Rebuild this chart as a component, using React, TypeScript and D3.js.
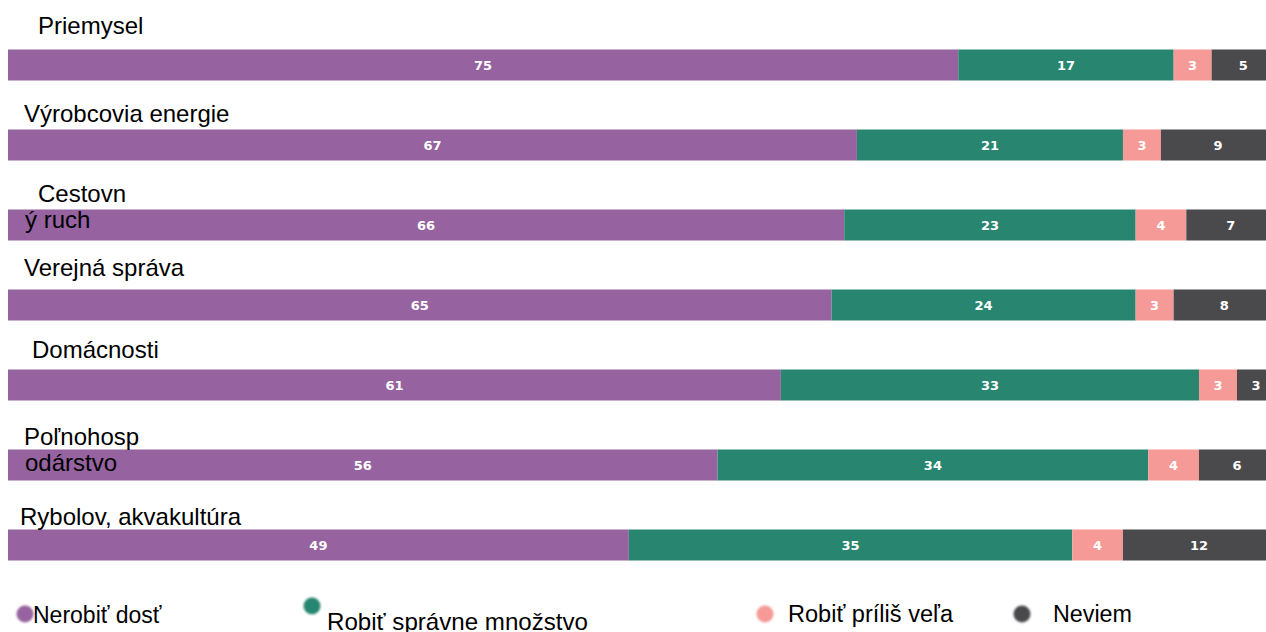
import React from "react";
import * as d3 from "d3";

const categories = [
  "Priemysel",
  "Výrobcovia energie",
  "Cestovný ruch",
  "Verejná správa",
  "Domácnosti",
  "Poľnohospodárstvo",
  "Rybolov, akvakultúra",
];
// displayed label lines (as wrapped in the original)
const labelLines = [
  ["Priemysel"],
  ["Výrobcovia energie"],
  ["Cestovn", "ý ruch"],
  ["Verejná správa"],
  ["Domácnosti"],
  ["Poľnohosp", "odárstvo"],
  ["Rybolov, akvakultúra"],
];
const seriesNames = ["Nerobiť dosť", "Robiť správne množstvo", "Robiť príliš veľa", "Neviem"];
const notEnough = [75, 67, 66, 65, 61, 56, 49];
const rightAmount = [17, 21, 23, 24, 33, 34, 35];
const tooMuch = [3, 3, 4, 3, 3, 4, 4];
const dontKnow = [5, 9, 7, 8, 3, 6, 12];

const colors = ["#9663a0", "#288670", "#f59a96", "#4a494b"];

// label layout offsets (style, relative to each bar)
const labelDx = [38, 24, 38, 24, 32, 24, 20];
const labelDy = [-15.5, -8, -8, -14, -12, -5, -5];
const lineGap = 26;

export default function App() {
  const width = 1266;
  const height = 632;
  const x = d3.scaleLinear().domain([0, 100]).range([8, 1275]);
  const y = d3
    .scaleBand<string>()
    .domain(categories)
    .range([49.5, 560.5])
    .paddingInner(0.6125)
    .paddingOuter(0);

  const series = [notEnough, rightAmount, tooMuch, dontKnow];
  const rows = categories.map((c, i) => {
    const obj: any = { cat: c };
    series.forEach((s, k) => (obj["s" + k] = s[i]));
    return obj;
  });
  const stacked = d3.stack<any>().keys(["s0", "s1", "s2", "s3"])(rows);

  const legend = [
    { cx: 25, cy: 614, tx: 33, ty: 623, size: 23, len: 0 },
    { cx: 312, cy: 606, tx: 327, ty: 630, size: 24, len: 261 },
    { cx: 765, cy: 614, tx: 788, ty: 622, size: 23, len: 165 },
    { cx: 1022, cy: 614, tx: 1053, ty: 622, size: 23, len: 79 },
  ];

  return (
    <svg
      width={width}
      height={height}
      style={{ position: "absolute", left: 0, top: 0, background: "#fff" }}
      fontFamily="'Liberation Sans', Arial, sans-serif"
    >
      <defs>
        <filter id="blur" x="-50%" y="-50%" width="200%" height="200%">
          <feGaussianBlur stdDeviation="1.2" />
        </filter>
      </defs>
      {stacked.map((layer, k) => (
        <g key={k}>
          {layer.map((d, i) => {
            const x0 = x(d[0]);
            const x1 = x(d[1]);
            const yy = y(categories[i])!;
            return (
              <g key={i}>
                <rect x={x0} y={yy} width={x1 - x0} height={y.bandwidth()} fill={colors[k]} />
                <text
                  x={(x0 + x1) / 2}
                  y={yy + y.bandwidth() / 2}
                  dy="0.36em"
                  textAnchor="middle"
                  fill="#fff"
                  fontFamily="'DejaVu Sans', sans-serif"
                  fontWeight="bold"
                  fontSize={13}
                >
                  {d[1] - d[0]}
                </text>
              </g>
            );
          })}
        </g>
      ))}
      {categories.map((c, i) => {
        const yy = y(c)!;
        const lines = labelLines[i];
        const base = yy + labelDy[i];
        return (
          <g key={c}>
            {lines.map((ln, j) => (
              <text
                key={j}
                x={j === 0 ? labelDx[i] : 25}
                y={base + j * lineGap}
                fontSize={24}
                fill="#000"
              >
                {ln}
              </text>
            ))}
          </g>
        );
      })}
      {seriesNames.map((n, k) => (
        <g key={n}>
          <circle cx={legend[k].cx} cy={legend[k].cy} r={8.5} fill={colors[k]} filter="url(#blur)" />
          <text
            x={legend[k].tx}
            y={legend[k].ty}
            fontSize={legend[k].size}
            fill="#000"
            textLength={legend[k].len || undefined}
            lengthAdjust={legend[k].len ? "spacingAndGlyphs" : undefined}
          >
            {n}
          </text>
        </g>
      ))}
    </svg>
  );
}
